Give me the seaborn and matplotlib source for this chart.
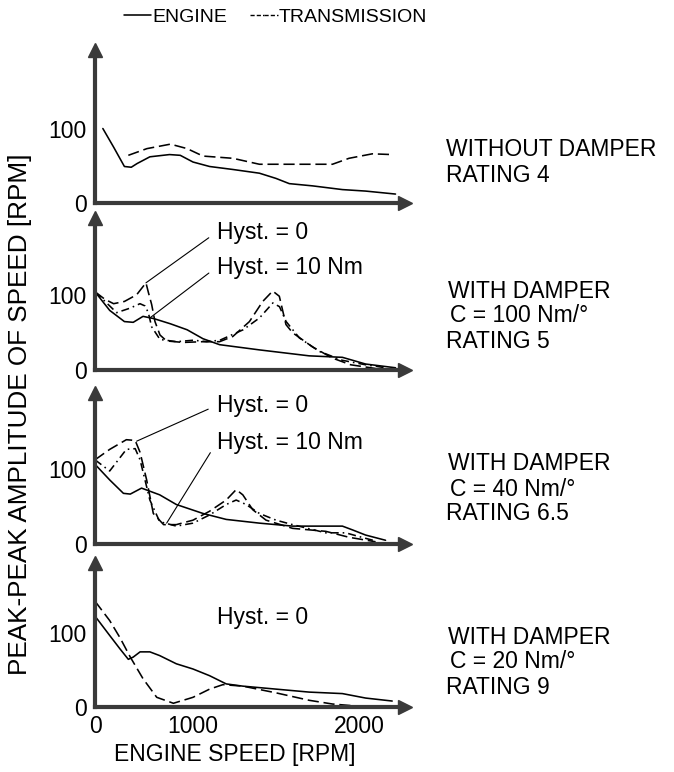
import numpy as np
import matplotlib
matplotlib.use("Agg")
import matplotlib.pyplot as plt
import seaborn as sns
from matplotlib.lines import Line2D
from matplotlib.legend_handler import HandlerLine2D, HandlerTuple

# ---------------- data (engine speed in RPM, amplitude in RPM) ----------------
# Panel 1: without damper
eng1_x = [80, 190, 300, 370, 430, 560, 760, 870, 1000, 1100, 1240, 1400, 1500, 1580, 1720, 1900, 2040, 2220]
eng1_y = [100, 75, 49, 48, 53, 62, 65, 64, 55, 49, 45, 40, 33, 26, 23, 18, 16, 12]
trn1_x = [340, 530, 770, 940, 1060, 1240, 1400, 1600, 1840, 1940, 2080, 2200]
trn1_y = [64, 73, 79, 73, 63, 60, 52, 52, 52, 60, 66, 65]

# Panel 2: with damper C = 100 Nm/deg
eng2_x = [0, 150, 300, 390, 490, 600, 770, 940, 1060, 1160, 1400, 1700, 1900, 2040, 2220]
eng2_y = [105, 80, 65, 64, 72, 69, 62, 54, 42, 34, 27, 19, 17, 8, 3]
h0_2_x = [0, 100, 190, 300, 425, 520, 545, 578, 612, 663, 730, 900, 1060, 1160, 1240, 1340, 1420, 1480, 1520, 1560, 1600, 1720, 1840, 1950, 2100]
h0_2_y = [105, 95, 89, 92, 101, 117, 104, 88, 65, 47, 39, 37, 38, 38, 45, 65, 92, 106, 99, 61, 50, 31, 16, 7, 2]
h10_2_x = [0, 221, 357, 459, 510, 544, 578, 663, 834, 1003, 1082, 1162, 1302, 1401, 1481, 1521, 1561, 1641, 1761, 1900, 2040, 2160]
h10_2_y = [105, 77, 83, 89, 86, 77, 58, 41, 38, 40, 38, 40, 54, 70, 90, 85, 65, 43, 25, 13, 7, 3]

# Panel 3: with damper C = 40 Nm/deg
eng3_x = [0, 150, 290, 360, 475, 660, 830, 1060, 1200, 1400, 1600, 1900, 1960, 2040, 2160]
eng3_y = [107, 86, 68, 67, 75, 66, 53, 41, 33, 28, 24, 24, 19, 12, 5]
h0_3_x = [0, 150, 320, 410, 460, 527, 595, 700, 830, 1000, 1100, 1200, 1260, 1300, 1360, 1440, 1600, 1800, 1940, 2100]
h0_3_y = [113, 127, 140, 139, 123, 86, 41, 26, 26, 32, 44, 59, 73, 66, 46, 32, 21, 17, 9, 3]
h10_3_x = [0, 150, 320, 410, 460, 560, 660, 830, 1000, 1100, 1200, 1260, 1320, 1400, 1500, 1600, 1800, 1920, 2000, 2100]
h10_3_y = [113, 98, 127, 128, 113, 59, 30, 24, 28, 39, 53, 59, 53, 41, 32, 26, 15, 15, 10, 4]

# Panel 4: with damper C = 20 Nm/deg
eng4_x = [0, 150, 255, 340, 390, 460, 560, 660, 830, 1000, 1100, 1200, 1300, 1500, 1700, 1900, 2040, 2200]
eng4_y = [122, 96, 78, 64, 67, 74, 74, 69, 58, 51, 42, 31, 28, 24, 20, 18, 12, 8]
trn4_x = [0, 150, 255, 360, 490, 630, 800, 1000, 1100, 1180, 1300, 1500, 1700, 1840, 2000]
trn4_y = [142, 116, 93, 67, 38, 13, 5, 13, 24, 30, 28, 19, 9, 4, 1]

case_labels = [
    ["WITHOUT DAMPER", "RATING 4"],
    ["WITH DAMPER", "C = 100 Nm/°", "RATING 5"],
    ["WITH DAMPER", "C = 40 Nm/°", "RATING 6.5"],
    ["WITH DAMPER", "C = 20 Nm/°", "RATING 9"],
]
x_ticks = [0, 1000, 2000]
y_ticks = [0, 50, 100, 150]
y_ticklabels = ["0", "", "100", ""]

# ---------------- styling ----------------
sns.set_style("white")
plt.rcParams["font.family"] = ["Liberation Sans", "DejaVu Sans"]
plt.rcParams["text.color"] = "black"
plt.rcParams["xtick.color"] = "black"
plt.rcParams["ytick.color"] = "black"
plt.rcParams["axes.labelcolor"] = "black"
FS = 16.5
W, H = 674, 772
fig = plt.figure(figsize=(W / 100, H / 100), dpi=100)

AX_COL = "#3a3a3a"
DASH = (0, (7, 3))
DASHDOT = (0, (5, 2.5, 1, 2.5))


def fwd(x):
    x = np.asarray(x, float)
    return np.where(x <= 1000, x * 0.098, 98 + (x - 1000) * 0.166)


def inv(u):
    u = np.asarray(u, float)
    return np.where(u <= 98, u / 0.098, 1000 + (u - 98) / 0.166)


left_px, right_px = 95, 405
bottoms = [203, 370, 544, 707]
tops = [50, 218, 393, 563]
PX_PER_UNIT = 0.745

axes = []
for i, (b, t) in enumerate(zip(bottoms, tops)):
    ax = fig.add_axes([left_px / W, 1 - b / H, (right_px - left_px) / W, (b - t) / H])
    ax.set_xscale("function", functions=(fwd, inv))
    ax.set_xlim(0, float(inv(right_px - left_px)))
    ax.set_ylim(0, (b - t) / PX_PER_UNIT)
    for s in ["top", "right"]:
        ax.spines[s].set_visible(False)
    for s in ["left", "bottom"]:
        ax.spines[s].set_linewidth(3)
        ax.spines[s].set_color(AX_COL)
    ax.plot(1, 0, ">", transform=ax.transAxes, clip_on=False, ms=10, color=AX_COL, zorder=5)
    ax.plot(0, 1, "^", transform=ax.transAxes, clip_on=False, ms=10, color=AX_COL, zorder=5)
    ax.set_yticks(y_ticks)
    ax.set_yticklabels(y_ticklabels)
    ax.set_xticks(x_ticks)
    if i < 3:
        ax.set_xticklabels([])
    else:
        ax.set_xticklabels([str(v) for v in x_ticks])
    ax.tick_params(direction="inout", length=10, width=1.1, color="black",
                   labelcolor="black", labelsize=FS, pad=1)
    ax.patch.set_alpha(0)
    axes.append(ax)

lw = 1.15
kw = dict(color="black", lw=lw)

# Panel 1
sns.lineplot(x=eng1_x, y=eng1_y, ax=axes[0], **kw)
sns.lineplot(x=trn1_x, y=trn1_y, ax=axes[0], linestyle=DASH, **kw)
# Panel 2
sns.lineplot(x=eng2_x, y=eng2_y, ax=axes[1], **kw)
sns.lineplot(x=h0_2_x, y=h0_2_y, ax=axes[1], linestyle=DASH, **kw)
sns.lineplot(x=h10_2_x, y=h10_2_y, ax=axes[1], linestyle=DASHDOT, **kw)
# Panel 3
sns.lineplot(x=eng3_x, y=eng3_y, ax=axes[2], **kw)
sns.lineplot(x=h0_3_x, y=h0_3_y, ax=axes[2], linestyle=DASH, **kw)
sns.lineplot(x=h10_3_x, y=h10_3_y, ax=axes[2], linestyle=DASHDOT, **kw)
# Panel 4
sns.lineplot(x=eng4_x, y=eng4_y, ax=axes[3], **kw)
sns.lineplot(x=trn4_x, y=trn4_y, ax=axes[3], linestyle=DASH, **kw)

for ax in axes:
    ax.set_xlabel("")
    ax.set_ylabel("")

ap = dict(arrowstyle="-", lw=0.8, color="black", relpos=(0, 0.5), shrinkA=4, shrinkB=0)
axes[1].annotate("Hyst. = 0", xy=(520, 117), xytext=(1142, 185), ha="left", va="center",
                 fontsize=FS, arrowprops=ap)
axes[1].annotate("Hyst. = 10 Nm", xy=(561, 70), xytext=(1142, 138), ha="left", va="center",
                 fontsize=FS, arrowprops=ap)
axes[2].annotate("Hyst. = 0", xy=(425, 138), xytext=(1142, 186), ha="left", va="center",
                 fontsize=FS, arrowprops=ap)
axes[2].annotate("Hyst. = 10 Nm", xy=(731, 28), xytext=(1142, 136), ha="left", va="center",
                 fontsize=FS, arrowprops=ap)
axes[3].text(1142, 120, "Hyst. = 0", ha="left", va="center", fontsize=FS)

# right-hand case descriptions
label_y = [[150, 176], [291, 316, 341], [464, 489, 514], [637, 662, 687]]
label_x = [[446, 446], [448, 450, 446], [448, 450, 446], [448, 450, 446]]
for lines, ys, xs in zip(case_labels, label_y, label_x):
    for txt, y, x in zip(lines, ys, xs):
        fig.text(x / W, 1 - y / H, txt, ha="left", va="center", fontsize=FS)

# axis titles
fig.text(20 / W, 1 - 414 / H, "PEAK-PEAK AMPLITUDE OF SPEED [RPM]", rotation=90,
         ha="center", va="center", fontsize=18.8)
fig.text(235 / W, 1 - 755 / H, "ENGINE SPEED [RPM]", ha="center", va="center", fontsize=FS)

# legend
LFS = 14
h_eng = Line2D([], [], color="black", lw=lw)
h_dash = Line2D([], [], color="black", lw=1.0, linestyle=(0, (3, 1.5)))
h_dd = Line2D([], [], color="black", lw=1.0, linestyle=(0, (3, 1.5)))
fig.legend(handles=[h_eng, (h_dash, h_dd)], labels=["ENGINE", "TRANSMISSION"],
           handler_map={tuple: HandlerTuple(ndivide=None, pad=0),
                        h_dash: HandlerLine2D(ypad=0.1),
                        h_dd: HandlerLine2D(ypad=-0.1)},
           loc="center left", bbox_to_anchor=(124 / W, 1 - 17 / H), ncol=2, frameon=False,
           handlelength=1.4, handletextpad=0.05, columnspacing=1.2,
           borderaxespad=0, borderpad=0, fontsize=LFS)

fig.savefig("out.png", dpi=100)
